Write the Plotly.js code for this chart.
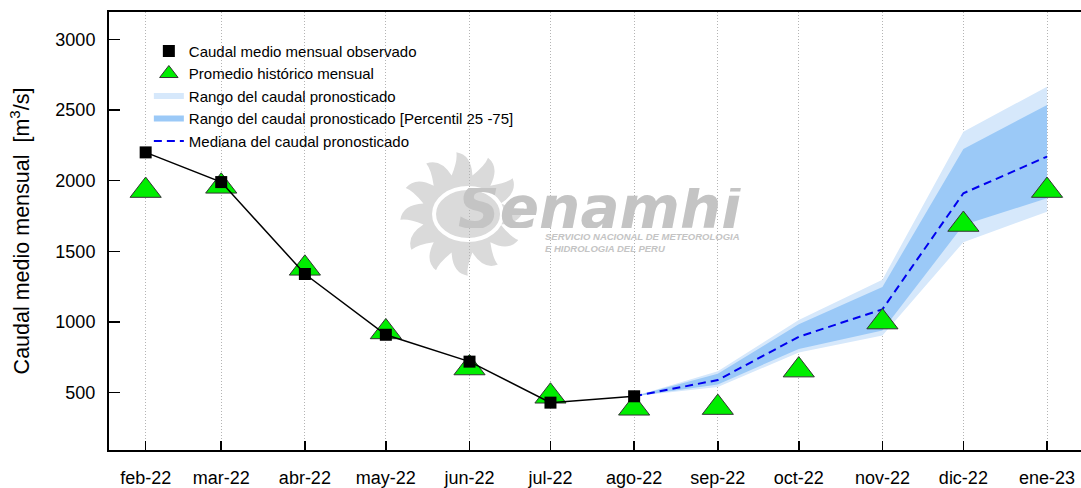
<!DOCTYPE html>
<html>
<head>
<meta charset="utf-8">
<script src="https://cdn.plot.ly/plotly-3.0.1.min.js"></script>
<style>html,body{margin:0;padding:0;background:#fff}#chart{width:1081px;height:488px}</style>
</head>
<body>
<div id="chart"></div>
<script>
// ---- data ----
const monthDates = ['2022-02-01','2022-03-01','2022-04-01','2022-05-01','2022-06-01','2022-07-01',
                    '2022-08-01','2022-09-01','2022-10-01','2022-11-01','2022-12-01','2023-01-01'];
const monthLabels = ['feb-22','mar-22','abr-22','may-22','jun-22','jul-22',
                     'ago-22','sep-22','oct-22','nov-22','dic-22','ene-23'];
const historicMean = [1930, 1960, 1380, 930, 675, 475, 390, 395, 660, 1000, 1690, 1930];

const observedDates = ['2022-02-01','2022-03-01','2022-04-01','2022-05-01','2022-06-01','2022-07-01','2022-08-01'];
const observedFlow = [2200, 1990, 1340, 910, 720, 430, 475];

const forecastDates = ['2022-08-01','2022-09-01','2022-10-01','2022-11-01','2022-12-01','2023-01-01'];
const forecastMedian = [475, 590, 896, 1090, 1911, 2170];
const rangeLow  = [475, 540, 785, 905, 1565, 1780];
const rangeHigh = [475, 652, 1015, 1300, 2346, 2665];
const p25 = [475, 558, 810, 940, 1686, 1875];
const p75 = [475, 635, 985, 1248, 2224, 2535];

const yTicks = [500, 1000, 1500, 2000, 2500, 3000];

// ---- helpers ----
function band(lo, hi){
  return {
    x: forecastDates.concat(forecastDates.slice().reverse()),
    y: hi.concat(lo.slice().reverse())
  };
}
const outer = band(rangeLow, rangeHigh);
const inner = band(p25, p75);

const FONT = 'Liberation Sans, Arial, Helvetica, sans-serif';

const traces = [
  {x: outer.x, y: outer.y, type:'scatter', mode:'none', fill:'toself',
   fillcolor:'#d6e8fb', name:'Rango del caudal pronosticado', legendrank:3, hoverinfo:'skip'},
  {x: inner.x, y: inner.y, type:'scatter', mode:'none', fill:'toself',
   fillcolor:'#9bc9f7', name:'Rango del caudal pronosticado [Percentil 25 -75]', legendrank:4, hoverinfo:'skip'},
  {x: forecastDates, y: forecastMedian, type:'scatter', mode:'lines',
   line:{color:'#0000ee', width:2, dash:'8px,5px'}, name:'Mediana del caudal pronosticado', legendrank:5},
  {x: monthDates, y: historicMean, type:'scatter', mode:'markers',
   marker:{symbol:'triangle-up', size:27, color:'#00ee00', line:{color:'#333333', width:1}},
   name:'Promedio histórico mensual', legendrank:2},
  {x: observedDates, y: observedFlow, type:'scatter', mode:'lines',
   line:{color:'#000000', width:1.5}, showlegend:false, hoverinfo:'skip'},
  {x: observedDates, y: observedFlow, type:'scatter', mode:'markers',
   marker:{symbol:'square', size:12, color:'#000000'},
   name:'Caudal medio mensual observado', legendrank:1}
];

// watermark sun (decoration)
function sunPath(){
  const n = 12, rIn = 40, rOut = 62;
  let d = '';
  const pt = (r, a) => (r*Math.cos(a)).toFixed(1) + ',' + (r*Math.sin(a)).toFixed(1);
  for(let k = 0; k < n; k++){
    const a = k*2*Math.PI/n;
    const w = Math.PI/n;
    d += (k === 0 ? 'M' : 'L') + pt(rIn, a - w);
    d += ' Q' + pt(rOut - 2, a - 0.6*w) + ' ' + pt(rOut, a + 0.35*w);
    d += ' Q' + pt(rIn + 14, a + 0.3*w) + ' ' + pt(rIn, a + w) + ' ';
  }
  return d + 'Z';
}

const WM = '#c4c4c4';
const layout = {
  width: 1081, height: 488,
  margin: {l: 109, r: 0, t: 12, b: 38, pad: 0},
  paper_bgcolor: '#ffffff', plot_bgcolor: '#ffffff',
  font: {family: FONT, color: '#000000'},
  showlegend: true,
  legend: {x: 0.041, y: 0.948, xanchor: 'left', yanchor: 'top', bgcolor: 'rgba(0,0,0,0)',
           font: {size: 15, family: FONT}, tracegroupgap: 0},
  xaxis: {
    type: 'date', range: ['2022-01-18 10:00', '2023-01-13 14:00'],
    tickmode: 'array', tickvals: monthDates, ticktext: monthLabels,
    ticks: 'inside', ticklen: 9, tickwidth: 1.5, tickcolor: '#000',
    showline: true, linecolor: '#000', linewidth: 2, mirror: true,
    showgrid: true, gridcolor: '#b4b4b4', gridwidth: 1, griddash: '1px,2px',
    zeroline: false, tickfont: {size: 18}, ticklabelstandoff: 10
  },
  yaxis: {
    range: [95, 3193], tickmode: 'array', tickvals: yTicks,
    ticks: 'inside', ticklen: 11, tickwidth: 1.5, tickcolor: '#000',
    showline: true, linecolor: '#000', linewidth: 2, mirror: false,
    showgrid: false, zeroline: false, tickfont: {size: 18}, ticklabelstandoff: 8,
    title: {text: 'Caudal medio mensual  [m<sup>3</sup>/s]', font: {size: 21.5}, standoff: 20}
  },
  shapes: [
    {type: 'path', layer: 'below', xref: 'paper', yref: 'paper', xsizemode: 'pixel', ysizemode: 'pixel',
     xanchor: 0.3632, yanchor: 0.5388, path: sunPath(), fillcolor: '#dadada', line: {width: 0}},
    {type: 'circle', layer: 'below', xref: 'paper', yref: 'paper', xsizemode: 'pixel', ysizemode: 'pixel',
     xanchor: 0.3632, yanchor: 0.5388, x0: -28, x1: 40, y0: -26, y1: 26,
     line: {color: '#ffffff', width: 4}, fillcolor: 'rgba(0,0,0,0)'}
  ],
  annotations: [
    {text: 'Senamhi', xref: 'paper', yref: 'paper', x: 0.505, y: 0.5525, xanchor: 'center', yanchor: 'middle',
     height: 40, valign: 'middle', showarrow: false,
     font: {family: 'DejaVu Sans, sans-serif', size: 58, color: WM, weight: 'bold', style: 'italic'}},
    {text: 'SERVICIO NACIONAL DE METEOROLOGIA<br>E HIDROLOGIA DEL PERU', xref: 'paper', yref: 'paper',
     x: 0.446, y: 0.5045, xanchor: 'left', yanchor: 'top', align: 'left', showarrow: false,
     font: {family: FONT, size: 9.5, color: WM, weight: 'bold', style: 'italic'}}
  ]
};

Plotly.newPlot('chart', traces, layout, {staticPlot: true, displayModeBar: false});
</script>
</body>
</html>
